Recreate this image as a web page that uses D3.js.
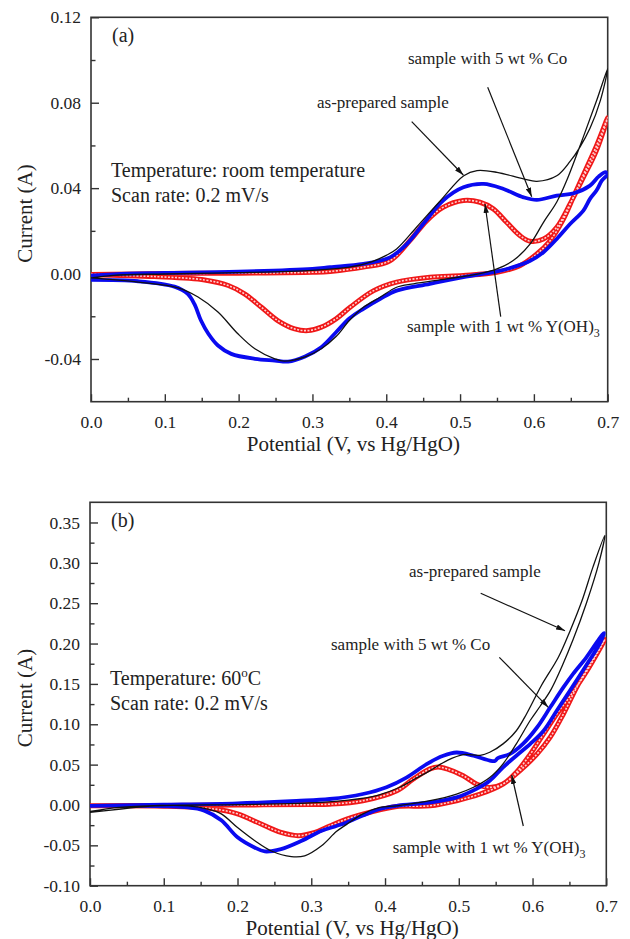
<!DOCTYPE html>
<html>
<head>
<meta charset="utf-8">
<script src="https://cdn.jsdelivr.net/npm/d3@7"></script>
<style>
  body { margin: 0; background: #fff; }
  text { font-family: "Liberation Serif", "Times New Roman", serif; fill: #222; }
</style>
</head>
<body>
<div id="chart"></div>
<script>
// Potential (V) / current (A) pairs. Each CV loop = forward + reverse sweep.
const aBlackFwd = [[0,-0.002],[0.03,-0.0008],[0.1,-0.0002],[0.2,0.0004],[0.3,0.0015],[0.35,0.003],[0.38,0.0055],[0.4,0.0085],[0.414,0.0115],[0.441,0.0217],[0.473,0.034],[0.505,0.0458],[0.523,0.0482],[0.55,0.0474],[0.586,0.0443],[0.604,0.0432],[0.631,0.0458],[0.649,0.0525],[0.662,0.059],[0.676,0.068],[0.69,0.081],[0.7,0.096]];
const aBlackRev = [[0.7,0.096],[0.685,0.081],[0.667,0.064],[0.645,0.044],[0.631,0.0335],[0.613,0.024],[0.595,0.0139],[0.572,0.0061],[0.55,0.0022],[0.527,0.0],[0.482,-0.0025],[0.437,-0.0048],[0.414,-0.0064],[0.392,-0.011],[0.369,-0.0158],[0.35,-0.022],[0.332,-0.0295],[0.312,-0.0352],[0.29,-0.039],[0.262,-0.041],[0.249,-0.0399],[0.222,-0.0352],[0.199,-0.0282],[0.172,-0.018],[0.145,-0.011],[0.118,-0.0067],[0.064,-0.004],[0,-0.002]];
const aBlueFwd = [[0,-0.001],[0.05,0],[0.1,0.0003],[0.2,0.0009],[0.3,0.0022],[0.324,0.003],[0.369,0.0045],[0.405,0.0076],[0.428,0.0139],[0.45,0.0232],[0.477,0.0342],[0.5045,0.0404],[0.532,0.042],[0.559,0.0396],[0.586,0.0357],[0.604,0.0345],[0.631,0.0365],[0.654,0.0376],[0.676,0.0412],[0.688,0.0455],[0.697,0.0475],[0.7,0.0467]];
const aBlueRev = [[0.7,0.0467],[0.692,0.0435],[0.685,0.039],[0.676,0.035],[0.667,0.0295],[0.649,0.0232],[0.631,0.0162],[0.613,0.01],[0.595,0.006],[0.572,0.003],[0.55,0.001],[0.5045,-0.0017],[0.459,-0.0048],[0.414,-0.008],[0.392,-0.0118],[0.369,-0.0165],[0.35,-0.021],[0.332,-0.0275],[0.312,-0.0345],[0.29,-0.0388],[0.267,-0.0412],[0.249,-0.0407],[0.222,-0.0399],[0.19,-0.0376],[0.172,-0.0337],[0.159,-0.0282],[0.149,-0.022],[0.14,-0.0142],[0.131,-0.0095],[0.113,-0.0061],[0.064,-0.0036],[0,-0.003]];
const aRedFwd = [[0,-0.0004],[0.1,0],[0.2,0.0002],[0.3,0.0006],[0.324,0.001],[0.369,0.003],[0.405,0.006],[0.432,0.0154],[0.455,0.0248],[0.477,0.031],[0.5045,0.0342],[0.527,0.0334],[0.545,0.0303],[0.563,0.024],[0.581,0.0178],[0.595,0.0151],[0.613,0.0162],[0.631,0.0217],[0.649,0.0326],[0.667,0.045],[0.684,0.057],[0.7,0.073]];
const aRedRev = [[0.7,0.073],[0.685,0.06],[0.672,0.05],[0.655,0.037],[0.64,0.0255],[0.622,0.0154],[0.604,0.0092],[0.581,0.0037],[0.55,0.0006],[0.5045,-0.0009],[0.459,-0.0017],[0.414,-0.004],[0.383,-0.008],[0.351,-0.0158],[0.332,-0.0212],[0.312,-0.0251],[0.294,-0.0267],[0.276,-0.0259],[0.253,-0.022],[0.231,-0.0158],[0.208,-0.0095],[0.186,-0.0056],[0.154,-0.003],[0.086,-0.0014],[0,-0.0005]];

const bBlackFwd = [[0,-0.008],[0.04,-0.003],[0.1,-0.0005],[0.2,0.0005],[0.3,0.0025],[0.35,0.006],[0.39,0.012],[0.42,0.022],[0.44,0.032],[0.461,0.0426],[0.484,0.055],[0.506,0.0624],[0.529,0.0615],[0.542,0.0653],[0.56,0.0757],[0.578,0.092],[0.592,0.113],[0.612,0.148],[0.635,0.183],[0.651,0.216],[0.667,0.253],[0.682,0.295],[0.698,0.334]];
const bBlackRev = [[0.698,0.334],[0.69,0.3],[0.673,0.25],[0.655,0.205],[0.64,0.172],[0.625,0.143],[0.61,0.122],[0.597,0.105],[0.578,0.0757],[0.56,0.051],[0.542,0.034],[0.52,0.022],[0.497,0.0136],[0.461,0.0053],[0.416,-0.001],[0.393,-0.003],[0.37,-0.011],[0.348,-0.024],[0.334,-0.033],[0.314,-0.0505],[0.291,-0.063],[0.273,-0.064],[0.246,-0.057],[0.223,-0.044],[0.2,-0.028],[0.178,-0.011],[0.16,-0.005],[0.133,-0.001],[0.088,-0.001],[0.042,-0.005],[0,-0.009]];
const bBlueFwd = [[0,-0.001],[0.1,0.0003],[0.2,0.002],[0.28,0.005],[0.325,0.0074],[0.37,0.0136],[0.402,0.022],[0.429,0.034],[0.457,0.051],[0.479,0.061],[0.497,0.065],[0.52,0.061],[0.542,0.055],[0.549,0.0545],[0.553,0.058],[0.569,0.063],[0.587,0.0757],[0.606,0.096],[0.624,0.121],[0.642,0.146],[0.655,0.1625],[0.673,0.183],[0.689,0.204],[0.697,0.213]];
const bBlueRev = [[0.697,0.213],[0.69,0.198],[0.672,0.172],[0.651,0.142],[0.633,0.117],[0.615,0.092],[0.597,0.0757],[0.578,0.061],[0.56,0.0467],[0.542,0.03],[0.524,0.02],[0.497,0.0094],[0.461,0.0032],[0.416,-0.001],[0.393,-0.005],[0.37,-0.013],[0.348,-0.0216],[0.334,-0.026],[0.314,-0.032],[0.287,-0.0443],[0.259,-0.0546],[0.237,-0.0575],[0.223,-0.0526],[0.2,-0.04],[0.178,-0.019],[0.155,-0.007],[0.133,-0.003],[0.05,-0.001],[0,-0.001]];
const bRedFwd = [[0,-0.001],[0.1,-0.0005],[0.2,0],[0.3,0.0005],[0.325,0.001],[0.37,0.0053],[0.416,0.0177],[0.438,0.032],[0.461,0.0447],[0.472,0.047],[0.484,0.0447],[0.506,0.0363],[0.524,0.026],[0.542,0.0218],[0.56,0.026],[0.578,0.0404],[0.597,0.063],[0.615,0.088],[0.633,0.113],[0.651,0.135],[0.673,0.165],[0.698,0.205]];
const bRedRev = [[0.698,0.205],[0.68,0.178],[0.66,0.146],[0.642,0.113],[0.624,0.084],[0.606,0.063],[0.583,0.0426],[0.56,0.026],[0.529,0.0136],[0.497,0.0053],[0.461,-0.001],[0.416,-0.002],[0.38,-0.009],[0.348,-0.0175],[0.325,-0.026],[0.305,-0.034],[0.282,-0.038],[0.259,-0.034],[0.232,-0.0236],[0.2,-0.011],[0.169,-0.005],[0.1,-0.0015],[0,-0.001]];

const xTicks = [0, 0.1, 0.2, 0.3, 0.4, 0.5, 0.6, 0.7];
const aYTicks = [-0.04, 0, 0.04, 0.08, 0.12];
const bYTicks = [-0.10, -0.05, 0, 0.05, 0.10, 0.15, 0.20, 0.25, 0.30, 0.35];
const xTitle = "Potential (V, vs Hg/HgO)";
const yTitle = "Current (A)";

const svg = d3.select("#chart").append("svg")
  .attr("width", 630)
  .attr("height", 939);

// arrow head
svg.append("defs").append("marker")
  .attr("id", "arrow")
  .attr("viewBox", "0 0 10 6")
  .attr("refX", 10).attr("refY", 3)
  .attr("markerWidth", 9).attr("markerHeight", 5.5)
  .attr("markerUnits", "userSpaceOnUse")
  .attr("orient", "auto")
  .append("path")
  .attr("d", "M0,0 L10,3 L0,6 Z")
  .attr("fill", "#111");

// hyphen instead of unicode minus, like the original figure
const fmt2 = d => d3.format(".2f")(d).replace("\u2212", "-");

function drawPanel(p) {
  const x = d3.scaleLinear().domain([0, 0.7]).range([p.left, p.right]);
  const y = d3.scaleLinear().domain(p.yDomain).range([p.bottom, p.top]);
  const g = svg.append("g");

  g.append("clipPath").attr("id", "clip" + p.id)
    .append("rect")
    .attr("x", p.left).attr("y", p.top)
    .attr("width", p.right - p.left).attr("height", p.bottom - p.top);

  // minor ticks (no labels)
  const xAxisMinor = d3.axisBottom(x).tickValues(d3.range(0.05, 0.7, 0.1)).tickSize(-4).tickFormat("");
  const yAxisMinor = d3.axisLeft(y).tickValues(p.yMinor).tickSize(-4.5).tickFormat("");
  g.append("g").attr("transform", `translate(0,${p.bottom})`).call(xAxisMinor);
  g.append("g").attr("transform", `translate(${p.left},0)`).call(yAxisMinor);

  const xAxis = d3.axisBottom(x).tickValues(xTicks).tickSize(-7.5).tickPadding(14)
    .tickFormat(d3.format(".1f"));
  const yAxis = d3.axisLeft(y).tickValues(p.yTicks).tickSize(-8).tickPadding(10)
    .tickFormat(fmt2);
  g.append("g").attr("class", "xaxis").attr("transform", `translate(0,${p.bottom})`).call(xAxis);
  g.append("g").attr("class", "yaxis").attr("transform", `translate(${p.left},0)`).call(yAxis);

  g.selectAll(".domain").remove();
  g.selectAll(".tick line").attr("stroke", "#333").attr("stroke-width", 1.4);
  g.selectAll(".tick text").style("font-size", "17.5px").attr("fill", "#222")
    .style("font-family", "'Liberation Serif', serif");

  // frame
  g.append("rect")
    .attr("x", p.left).attr("y", p.top)
    .attr("width", p.right - p.left).attr("height", p.bottom - p.top)
    .attr("fill", "none").attr("stroke", "#333").attr("stroke-width", 1.6);

  // curves
  const line = d3.line()
    .x(d => x(d[0])).y(d => y(d[1]))
    .curve(d3.curveCatmullRom.alpha(0.5));
  const curves = g.append("g").attr("clip-path", `url(#clip${p.id})`);

  // red: dense open circles -> thick red band with pale core
  curves.append("path").attr("d", line(p.red[0].concat(p.red[1].slice(1))))
    .attr("fill", "none").attr("stroke", "#f01818").attr("stroke-width", 5)
    .attr("stroke-linejoin", "round");
  curves.append("path").attr("d", line(p.red[0].concat(p.red[1].slice(1))))
    .attr("fill", "none").attr("stroke", "#ffd0d0").attr("stroke-width", 1.6)
    .attr("stroke-dasharray", "2 1.5");

  // blue: dense filled squares -> solid blue band
  curves.append("path").attr("d", line(p.blue[0].concat(p.blue[1].slice(1))))
    .attr("fill", "none").attr("stroke", "#0a0af0").attr("stroke-width", 3.8)
    .attr("stroke-linejoin", "round");

  // black: plain line
  curves.append("path").attr("d", line(p.black[0].concat(p.black[1].slice(1))))
    .attr("fill", "none").attr("stroke", "#111").attr("stroke-width", 1.3);

  // axis titles
  g.append("text")
    .attr("x", (p.left + p.right) / 2 + 4).attr("y", p.bottom + 49)
    .attr("text-anchor", "middle").style("font-size", "21px")
    .text(xTitle);
  g.append("text")
    .attr("transform", `translate(32,${(p.top + p.bottom) / 2 + 4}) rotate(-90)`)
    .attr("text-anchor", "middle").style("font-size", "21px")
    .text(yTitle);

  // panel letter + conditions
  g.append("text").attr("x", p.left + 21).attr("y", p.top + 25)
    .style("font-size", "20px").text(p.letter);
  p.note(g.append("text").attr("x", p.left + 20).attr("y", p.noteY).style("font-size", "20px"));
  g.append("text").attr("x", p.left + 20).attr("y", p.noteY + 25)
    .style("font-size", "20px").text("Scan rate: 0.2 mV/s");

  // callouts
  p.labels.forEach(l => {
    const t = g.append("text").attr("x", l.x).attr("y", l.y).style("font-size", "17px");
    t.text(l.text);
    if (l.sub) t.append("tspan").attr("dy", 5).style("font-size", "12px").text(l.sub);
    g.append("line")
      .attr("x1", l.from[0]).attr("y1", l.from[1])
      .attr("x2", l.to[0]).attr("y2", l.to[1])
      .attr("stroke", "#111").attr("stroke-width", 1.2)
      .attr("marker-end", "url(#arrow)");
  });
}

drawPanel({
  id: "a", letter: "(a)",
  left: 91, right: 607.7, top: 17.3, bottom: 401.7,
  yDomain: [-0.06, 0.12], yTicks: aYTicks,
  yMinor: [-0.02, 0.02, 0.06, 0.10],
  black: [aBlackFwd, aBlackRev], blue: [aBlueFwd, aBlueRev], red: [aRedFwd, aRedRev],
  noteY: 177,
  note: t => t.text("Temperature: room temperature"),
  labels: [
    { text: "sample with 5 wt % Co", x: 408, y: 63.5, from: [487.7, 87.3], to: [531.7, 196.7] },
    { text: "as-prepared sample", x: 317, y: 108.3, from: [411.7, 121.7], to: [463.3, 175] },
    { text: "sample with 1 wt % Y(OH)", sub: "3", x: 407, y: 331.7, from: [500.7, 316.7], to: [485, 204] }
  ]
});

drawPanel({
  id: "b", letter: "(b)",
  left: 90, right: 606.3, top: 502.3, bottom: 885.7,
  yDomain: [-0.1, 0.375], yTicks: bYTicks,
  yMinor: d3.range(-0.075, 0.375, 0.05),
  black: [bBlackFwd, bBlackRev], blue: [bBlueFwd, bBlueRev], red: [bRedFwd, bRedRev],
  noteY: 685,
  note: t => {
    t.text("Temperature: 60");
    t.append("tspan").attr("dy", -8).style("font-size", "13px").text("o");
    t.append("tspan").attr("dy", 8).text("C");
  },
  labels: [
    { text: "as-prepared sample", x: 409, y: 577, from: [480.7, 593.3], to: [565, 630.7] },
    { text: "sample with 5 wt % Co", x: 331, y: 649.5, from: [499.3, 657.3], to: [548.3, 707.3] },
    { text: "sample with 1 wt % Y(OH)", sub: "3", x: 392.7, y: 853.3, from: [523.3, 826], to: [511.7, 775] }
  ]
});
</script>
</body>
</html>
